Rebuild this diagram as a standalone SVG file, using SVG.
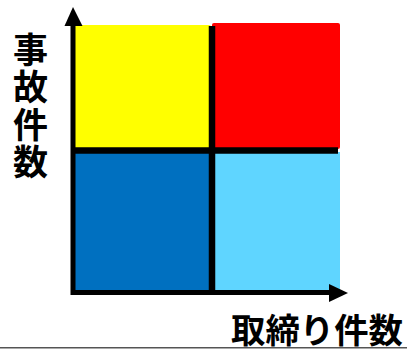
<svg xmlns="http://www.w3.org/2000/svg" width="407" height="349" viewBox="0 0 407 349">
<style>
.lbl{font-family:"Noto Sans CJK JP","Noto Sans CJK SC",sans-serif;font-weight:bold;fill:#000}
.ax{stroke:#000;stroke-width:5;fill:none}
.div{stroke:#000;stroke-width:6.5}
</style>
<rect width="407" height="349" fill="#fff"/>
<g id="q-yellow"><rect x="75" y="25" width="136" height="124" fill="#ffff00" rx="2"/></g>
<g id="q-red"><rect x="212" y="23" width="128" height="126" fill="#ff0000" rx="2"/></g>
<g id="q-blue"><rect x="75" y="151" width="136" height="139" fill="#0070c0"/></g>
<g id="q-lightblue"><rect x="212" y="152" width="128" height="138" fill="#5fd5ff"/></g>
<g id="connectors">
<line class="div" x1="212" y1="26" x2="212" y2="292"/>
<line class="div" x1="73" y1="150.5" x2="338" y2="150.5"/>
<line class="ax" x1="73" y1="295" x2="73" y2="24"/>
<path d="M64.5,26 L73,7 L82.5,26 Z" fill="#000"/>
<line class="ax" x1="71" y1="292.5" x2="330" y2="292.5"/>
<path d="M329,284 L348,293 L329,302 Z" fill="#000"/>
</g>
<g id="label-y">
<text class="lbl" font-size="35" x="30.5" y="32" writing-mode="tb" letter-spacing="2.5">事故件数</text>
</g>
<g id="label-x">
<text class="lbl" font-size="34" x="231" y="343" textLength="172" lengthAdjust="spacingAndGlyphs">取締り件数</text>
</g>
<line x1="0" y1="347.8" x2="407" y2="347.8" stroke="#555" stroke-width="1.5"/>
</svg>
